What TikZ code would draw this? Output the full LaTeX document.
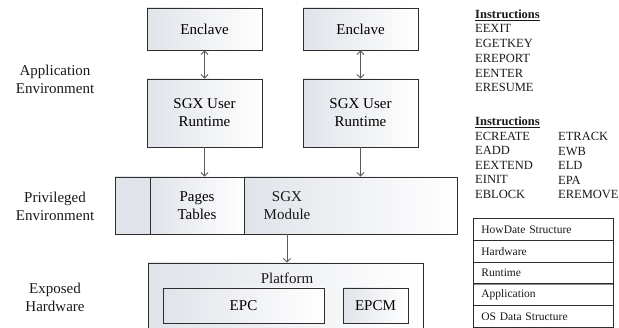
\documentclass[tikz,border=0pt]{standalone}
\usepackage{fontspec}
\setmainfont{Liberation Serif}
\usetikzlibrary{arrows.meta,shadows}
\definecolor{boxgray}{RGB}{224,227,233}
\definecolor{edgec}{RGB}{45,45,45}
\definecolor{arrc}{RGB}{90,90,90}
\tikzset{
  shad/.style={drop shadow={shadow xshift=0.9pt, shadow yshift=-0.9pt, fill=black, opacity=0.45}},
  gbox/.style={draw=edgec, line width=0.8pt, left color=boxgray, right color=white, inner sep=0pt, align=center,
    font=\fontsize{15}{18}\selectfont, shad},
  flatbox/.style={draw=edgec, line width=0.8pt, fill=boxgray, inner sep=0pt, shad},
  lbl/.style={align=center, inner sep=0pt, font=\fontsize{15}{18}\selectfont, text=black!90},
  instr/.style={anchor=base west, inner sep=0pt, font=\fontsize{12.5}{14}\selectfont, text=black!90},
  legrow/.style={draw=edgec, line width=0.8pt, fill=white, anchor=north west, inner xsep=8pt, inner ysep=0pt,
    text width=124pt, minimum height=21.8pt, align=left, font=\fontsize{11.5}{13}\selectfont, text=black!90, shad},
  arr/.style={draw=arrc, line width=0.9pt, -{Straight Barb[length=3.5pt,width=7pt]}},
  darr/.style={draw=arrc, line width=0.9pt, {Straight Barb[length=3.5pt,width=7pt]}-{Straight Barb[length=3.5pt,width=7pt]}}
}
\begin{document}
\begin{tikzpicture}[x=1pt,y=-1pt]
\useasboundingbox (0,0) rectangle (619,328);
% left labels
\node[lbl] (la) at (55,79) {Application\\Environment};
\node[lbl] (lp) at (55,206.5) {Privileged\\Environment};
\node[lbl] (lh) at (55,297.5) {Exposed\\Hardware};
% enclaves and runtimes
\node[gbox, minimum width=115pt, minimum height=42pt] (enc1) at (204.5,29) {Enclave};
\node[gbox, minimum width=115pt, minimum height=42pt] (enc2) at (360.5,29) {Enclave};
\node[gbox, minimum width=115pt, minimum height=68pt] (rt1) at (204.5,113) {SGX User\\Runtime};
\node[gbox, minimum width=115pt, minimum height=68pt] (rt2) at (360.5,113) {SGX User\\Runtime};
% privileged
\node[gbox, minimum width=342pt, minimum height=57pt] (priv) at (286,205.5) {};
\node[flatbox, minimum width=35pt, minimum height=57pt, drop shadow={opacity=0}] (pc0) at (132.5,205.5) {};
\node[gbox, minimum width=94pt, minimum height=57pt, drop shadow={opacity=0}] (pc1) at (197,205.5) {Pages\\Tables};
\node[gbox, minimum width=213pt, minimum height=57pt, drop shadow={opacity=0}] (pc2) at (350.5,205.5) {};
\node[lbl] (pc2t) at (287,206) {SGX\\Module};
% platform
\node[gbox, minimum width=275pt, minimum height=74pt] (plat) at (285.5,300) {};
\node[lbl] (platt) at (287,278) {Platform};
\node[gbox, minimum width=161pt, minimum height=35pt] (epc) at (243.5,305.5) {EPC};
\node[gbox, minimum width=65pt, minimum height=35pt] (epcm) at (375.5,305.5) {EPCM};
% arrows
\draw[darr] (enc1.south) -- (rt1.north);
\draw[darr] (enc2.south) -- (rt2.north);
\draw[arr] (rt1.south) -- (rt1.south |- pc1.north);
\draw[arr] (rt2.south) -- (rt2.south |- pc2.north);
\draw[arr] (pc2t |- pc2.south) -- (pc2t |- plat.north);
% instructions
\node[instr] (h1) at (475,19) {\textbf{\underline{Instructions}}};
\foreach \t [count=\i from 0] in {EEXIT,EGETKEY,EREPORT,EENTER,ERESUME}
  \node[instr] (ia\i) at (475,33+14.7*\i) {\t};
\node[instr] (h2) at (475,126) {\textbf{\underline{Instructions}}};
\foreach \t [count=\i from 0] in {ECREATE,EADD,EEXTEND,EINIT,EBLOCK}
  \node[instr] (ib\i) at (475,140.5+14.5*\i) {\t};
\foreach \t [count=\i from 0] in {ETRACK,EWB,ELD,EPA,EREMOVE}
  \node[instr] (ic\i) at (558,141+14.5*\i) {\t};
% legend
\node[legrow] (r4) at (473,305.2) {OS Data Structure};
\node[legrow] (r3) at (473,283.4) {Application};
\node[legrow] (r2) at (473,261.6) {Runtime};
\node[legrow] (r1) at (473,239.8) {Hardware};
\node[legrow] (r0) at (473,218) {HowDate Structure};
\end{tikzpicture}
\end{document}
